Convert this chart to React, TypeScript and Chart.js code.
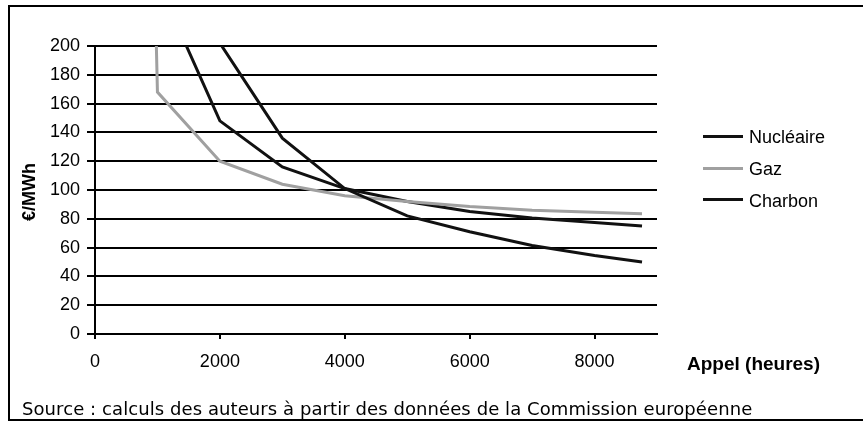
import React, { useEffect, useRef } from "react";
import { Chart, registerables } from "chart.js";

Chart.register(...registerables);

const heures = [1000, 2000, 3000, 4000, 5000, 6000, 7000, 8000, 8760];
const heuresGaz = [950, 1000, 2000, 3000, 4000, 5000, 6000, 7000, 8000, 8760];
const nucleaire = [400, 202, 136, 101, 82, 71, 61.5, 54.5, 50];
const charbon = [245, 148, 116, 101, 92, 85, 80.5, 77.5, 75];
const gaz = [260, 168, 120, 104, 96, 92, 88.5, 86, 84.5, 83.5];
const xTicks = [0, 2000, 4000, 6000, 8000];
const seriesNames = ["Nucléaire", "Gaz", "Charbon"];
const xTitle = "Appel (heures)";
const yTitle = "€/MWh";
const sourceText = "Source : calculs des auteurs à partir des données de la Commission européenne";

const FONT = "'Liberation Sans', Arial, sans-serif";

function pts(xs: number[], ys: number[]) {
  return xs.map((x, i) => ({ x, y: ys[i] }));
}

export default function App() {
  const ref = useRef<HTMLCanvasElement | null>(null);

  useEffect(() => {
    if (!ref.current) return;
    const chart = new Chart(ref.current, {
      type: "line",
      data: {
        datasets: [
          { label: seriesNames[0], data: pts(heures, nucleaire), borderColor: "#111", borderWidth: 3, pointRadius: 0, tension: 0 },
          { label: seriesNames[1], data: pts(heuresGaz, gaz), borderColor: "#a0a0a0", borderWidth: 3, pointRadius: 0, tension: 0 },
          { label: seriesNames[2], data: pts(heures, charbon), borderColor: "#111", borderWidth: 3, pointRadius: 0, tension: 0 },
        ],
      },
      options: {
        responsive: false,
        animation: false,
        devicePixelRatio: 1,
        layout: { padding: { left: 40, top: 46, right: 206, bottom: 0 } },
        plugins: { legend: { display: false }, tooltip: { enabled: false } },
        scales: {
          x: {
            type: "linear",
            min: 0,
            max: 9000,
            afterBuildTicks: (s: any) => {
              s.ticks = xTicks.map((v) => ({ value: v }));
            },
            afterFit: (s: any) => {
              s.height = 88;
            },
            grid: { drawOnChartArea: false, drawTicks: true, tickLength: 5, color: "#000", lineWidth: 2 },
            border: { display: true, color: "#000", width: 2 },
            ticks: {
              color: "#000",
              font: { family: FONT, size: 18 },
              padding: 12,
              maxRotation: 0,
              autoSkip: false,
              callback: (v: any) => String(v),
            },
          },
          y: {
            min: 0,
            max: 200,
            afterFit: (s: any) => {
              s.width = 55;
            },
            grid: { color: "#000", lineWidth: 2, tickLength: 8, drawTicks: true },
            border: { display: true, color: "#000", width: 2 },
            ticks: { stepSize: 20, color: "#000", font: { family: FONT, size: 18 }, padding: 7, callback: (v: any) => String(v) },
          },
        },
      },
    } as any);
    return () => chart.destroy();
  }, []);

  const legendColors = ["#111", "#a0a0a0", "#111"];
  const legendTops = [136, 168, 199.5];

  return (
    <div style={{ position: "absolute", left: 0, top: 0, width: 863, height: 422, background: "#fff", overflow: "hidden" }}>
      <div
        style={{
          position: "absolute",
          left: 8,
          top: 5,
          width: 860,
          height: 416,
          border: "2px solid #000",
          boxSizing: "border-box",
        }}
      />
      <canvas ref={ref} width={863} height={422} style={{ position: "absolute", left: 0, top: 0, width: 863, height: 422 }} />
      <div
        style={{
          position: "absolute",
          left: 29,
          top: 192,
          transform: "translate(-50%, -50%) rotate(-90deg)",
          whiteSpace: "nowrap",
          fontFamily: FONT,
          fontWeight: "bold",
          fontSize: 18,
          lineHeight: "18px",
          color: "#000",
        }}
      >
        {yTitle}
      </div>
      <div
        style={{
          position: "absolute",
          left: 687,
          top: 354,
          whiteSpace: "nowrap",
          fontFamily: FONT,
          fontWeight: "bold",
          fontSize: 19,
          lineHeight: "19px",
          color: "#000",
        }}
      >
        {xTitle}
      </div>
      {seriesNames.map((n, i) => (
        <React.Fragment key={n}>
          <div
            style={{
              position: "absolute",
              left: 703,
              top: legendTops[i] - 1.5,
              width: 40,
              height: 3,
              background: legendColors[i],
            }}
          />
          <div
            style={{
              position: "absolute",
              left: 749,
              top: legendTops[i] - 8,
              whiteSpace: "nowrap",
              fontFamily: FONT,
              fontSize: 18,
              lineHeight: "18px",
              color: "#000",
            }}
          >
            {n}
          </div>
        </React.Fragment>
      ))}
      <div
        style={{
          position: "absolute",
          left: 22,
          top: 400,
          whiteSpace: "nowrap",
          fontFamily: "'DejaVu Sans', Verdana, sans-serif",
          fontSize: 18,
          letterSpacing: "0.08px",
          lineHeight: "18px",
          color: "#000",
        }}
      >
        {sourceText}
      </div>
    </div>
  );
}
